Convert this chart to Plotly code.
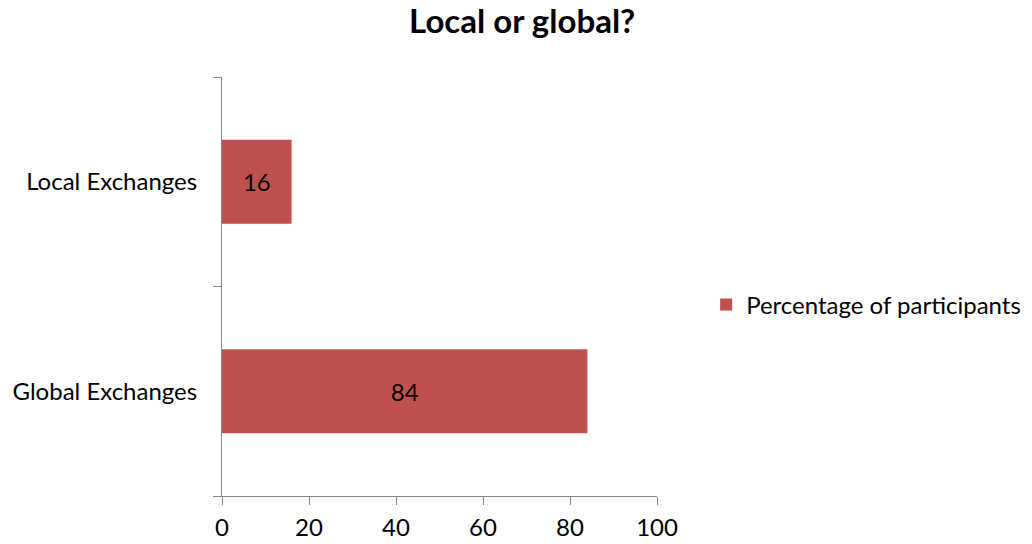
import plotly.graph_objects as go

categories = ["Global Exchanges", "Local Exchanges"]
values = [84, 16]
series_name = "Percentage of participants"
x_ticks = [0, 20, 40, 60, 80, 100]

FONT = "Lato"
RED = "#C0504D"
AXIS = "#868686"

fig = go.Figure()
fig.add_trace(go.Bar(
    y=categories, x=values, orientation="h", name=series_name,
    marker=dict(color=RED, line=dict(width=0)),
    text=[str(v) for v in values], textposition="inside",
    insidetextanchor="middle",
    textfont=dict(family=FONT, size=24, color="black"),
    showlegend=True,
))

fig.update_layout(
    width=1032, height=544,
    margin=dict(l=222, r=375, t=77, b=48, autoexpand=False),
    paper_bgcolor="white", plot_bgcolor="white",
    bargap=0.6,
    title=dict(text="<b>Local or global?</b>", x=0.506, xref="container", xanchor="center",
               y=0.96, yref="container", yanchor="middle",
               font=dict(family=FONT, size=33, color="black")),
    font=dict(family=FONT, size=24, color="black"),
    legend=dict(x=1.113, xanchor="left", y=0.456, yanchor="middle",
                font=dict(family=FONT, size=24, color="black"),
                bgcolor="rgba(0,0,0,0)"),
    xaxis=dict(range=[0, 100], tickvals=x_ticks, ticks="outside", ticklen=8,
               tickcolor=AXIS, showline=True, linecolor=AXIS, linewidth=1,
               showgrid=False, zeroline=False, ticklabelstandoff=2, automargin=False,
               tickfont=dict(family=FONT, size=24, color="black")),
    yaxis=dict(type="category", categoryorder="array", categoryarray=categories,
               ticks="outside", tickson="boundaries", ticklen=8, tickcolor=AXIS,
               showline=True, linecolor=AXIS, linewidth=1, showgrid=False,
               ticklabelstandoff=19, automargin=False,
               tickfont=dict(family=FONT, size=24, color="black")),
)

fig.write_html("out.html")
